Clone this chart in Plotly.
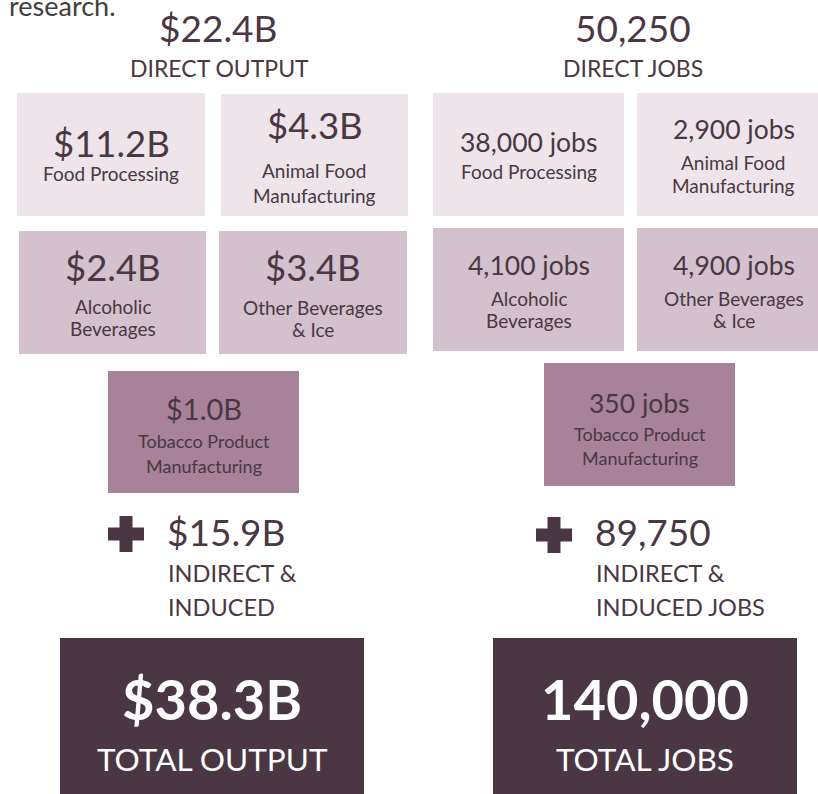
import plotly.graph_objects as go

# ---------------- data ----------------
categories = [
    ["Food Processing"],
    ["Animal Food", "Manufacturing"],
    ["Alcoholic", "Beverages"],
    ["Other Beverages", "& Ice"],
    ["Tobacco Product", "Manufacturing"],
]
output_values = ["$11.2B", "$4.3B", "$2.4B", "$3.4B", "$1.0B"]
jobs_values = ["38,000 jobs", "2,900 jobs", "4,100 jobs", "4,900 jobs", "350 jobs"]

direct_output = "$22.4B"
direct_jobs = "50,250"
indirect_output = "$15.9B"
indirect_jobs = "89,750"
total_output = "$38.3B"
total_jobs = "140,000"

headers_direct = ["DIRECT OUTPUT", "DIRECT JOBS"]
headers_indirect = [["INDIRECT &", "INDUCED"], ["INDIRECT &", "INDUCED JOBS"]]
headers_total = ["TOTAL OUTPUT", "TOTAL JOBS"]
intro_text = "research."

# ---------------- styling / layout ----------------
FONT = "Lato"
TXT = "#4a3743"
DARK = "#4a3743"
BOX_COLORS = ["#ede5ea", "#ede5ea", "#d3c1cd", "#d3c1cd", "#a78299"]

# box geometry per column: (x0, x1, y0, y1, value_y, [line ys])
left_boxes = [
    (17, 205, 93, 216, 143, [173]),
    (221, 408, 94, 216, 125, [170, 195]),
    (19, 206, 231, 354, 267, [306, 328]),
    (219, 407, 231, 354, 267, [307, 329]),
    (108, 299, 371, 493, 408, [441, 466]),
]
right_boxes = [
    (433, 624, 93, 216, 142, [171]),
    (637, 830, 93, 216, 129, [162, 185]),
    (433, 624, 228, 351, 265, [298, 320]),
    (637, 830, 228, 351, 265, [298, 320]),
    (544, 735, 363, 486, 403, [434, 458]),
]

fig = go.Figure()
shapes = []
ann = []


def add_text(x, y, text, size, color=TXT, bold=False, xanchor="center"):
    t = f"<b>{text}</b>" if bold else text
    ann.append(dict(x=x, y=y, xref="x", yref="y", text=t, showarrow=False,
                    xanchor=xanchor, yanchor="middle",
                    font=dict(family=FONT, size=size, color=color)))


def draw_column(boxes, values, value_sizes, cat_sizes):
    for i, (x0, x1, y0, y1, vy, lys) in enumerate(boxes):
        shapes.append(dict(type="rect", xref="x", yref="y", x0=x0, x1=x1, y0=y0, y1=y1,
                           fillcolor=BOX_COLORS[i], line=dict(width=0), layer="below"))
        cx = (x0 + x1) / 2
        add_text(cx, vy, values[i], value_sizes[i])
        for line, ly in zip(categories[i], lys):
            add_text(cx, ly, line, cat_sizes[i])


draw_column(left_boxes, output_values, [36.5, 36.5, 36.5, 36.5, 29], [19, 19, 19, 19, 18])
draw_column(right_boxes, jobs_values, [26.5, 26.5, 26.5, 26.5, 26.5], [19, 19, 19, 19, 18])

# headers
add_text(218, 27, direct_output, 37)
add_text(219, 68, headers_direct[0], 23)
add_text(633, 27, direct_jobs, 37)
add_text(633, 68, headers_direct[1], 23)

# intro text (cut off at top)
add_text(7, 5, intro_text, 27, color="#404040", xanchor="left")

# plus signs + indirect
for (px, py), val, lines, tx in [((126, 534), indirect_output, headers_indirect[0], 167),
                                  ((554, 535), indirect_jobs, headers_indirect[1], 595)]:
    shapes.append(dict(type="rect", xref="x", yref="y", x0=px - 6.5, x1=px + 6.5,
                       y0=py - 18, y1=py + 18, fillcolor=TXT, line=dict(width=0)))
    shapes.append(dict(type="rect", xref="x", yref="y", x0=px - 18, x1=px + 18,
                       y0=py - 6.5, y1=py + 6.5, fillcolor=TXT, line=dict(width=0)))
    add_text(tx - 2, 531, val, 37, xanchor="left")
    add_text(tx - 1, 573, lines[0], 23.5, xanchor="left")
    add_text(tx - 1, 607, lines[1], 23.5, xanchor="left")

# totals
for (x0, x1), big, lab in [((60, 364), total_output, headers_total[0]),
                           ((493, 797), total_jobs, headers_total[1])]:
    shapes.append(dict(type="rect", xref="x", yref="y", x0=x0, x1=x1, y0=638, y1=800,
                       fillcolor=DARK, line=dict(width=0), layer="below"))
    cx = (x0 + x1) / 2
    add_text(cx, 698, big, 56, color="white", bold=True)
    add_text(cx, 759, lab, 31.5, color="white")

fig.update_layout(
    width=818, height=794,
    margin=dict(l=0, r=0, t=0, b=0),
    paper_bgcolor="white", plot_bgcolor="white",
    xaxis=dict(range=[0, 818], visible=False, fixedrange=True),
    yaxis=dict(range=[794, 0], visible=False, fixedrange=True),
    shapes=shapes, annotations=ann, showlegend=False,
)

fig.write_html("out.html", config={"displayModeBar": False},
               post_script="document.body.style.margin='0';document.body.style.overflow='hidden';")
